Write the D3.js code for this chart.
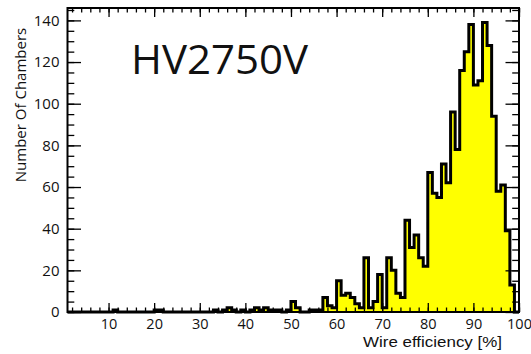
<!DOCTYPE html>
<html>
<head>
<meta charset="utf-8">
<script src="https://cdn.jsdelivr.net/npm/d3@7"></script>
<style>
  html, body { margin: 0; padding: 0; background: #fff; }
  svg { display: block; }
  text { font-family: "Open Sans", "DejaVu Sans", sans-serif; fill: #111; }
</style>
</head>
<body>
<svg id="chart" width="531" height="354"></svg>
<script>
// ---- data ----
const binStarts = d3.range(1, 100);          // bins [v, v+1), v = 1..99
const counts = [
  0,0,0,0,0,0,0,0,0,          // 1-9
  0,1,0,0,0,0,0,0,0,0,        // 10-19
  1,1,0,0,0,0,0,0,0,0,        // 20-29
  0,0,0,1,0,1,2,1,0,1,        // 30-39
  0,1,2,1,2,1,1,1,0,1,        // 40-49
  5,2,0,0,1,1,1,7,3,2,        // 50-59
  15,8,9,7,4,2,26,2,5,18,     // 60-69
  2,26,20,9,7,44,31,37,26,22, // 70-79
  67,57,55,71,62,96,78,116,125,138, // 80-89
  109,111,139,128,94,58,61,39,13,0  // 90-99
];
const xMajor = [10,20,30,40,50,60,70,80,90,100];
const xMinor = d3.range(2, 101, 2);
const yMajor = [0,20,40,60,80,100,120,140];
const yMinor = d3.range(0, 146, 5);
const title = "HV2750V";
const xTitle = "Wire efficiency [%]";
const yTitle = "Number Of Chambers";

// ---- layout ----
const L = 67.5, R = 519, T = 8, B = 312;
const svg = d3.select("#chart");
const x = d3.scaleLinear().domain([1, 100]).range([L, R]);
const y = d3.scaleLinear().domain([0, 145.95]).range([B, T]);

// histogram step points
const pts = [[1, 0]];
binStarts.forEach((v, i) => { pts.push([v, counts[i]]); pts.push([v + 1, counts[i]]); });
pts.push([100, 0]);

svg.append("path")
  .datum(pts)
  .attr("fill", "#ffff00")
  .attr("d", d3.area().x(d => x(d[0])).y0(y(0)).y1(d => y(d[1])));

svg.append("path")
  .datum(pts)
  .attr("fill", "none")
  .attr("stroke", "#000")
  .attr("stroke-width", 3)
  .attr("stroke-linejoin", "miter")
  .attr("d", d3.line().x(d => x(d[0])).y(d => y(d[1])));

// axes (ticks inward)
function styleAxis(g) {
  g.select(".domain").remove();
  g.selectAll(".tick line").attr("stroke", "#000").attr("stroke-width", 1.3);
}
const noLab = () => "";

svg.append("g").attr("transform", `translate(0,${B})`)
  .call(d3.axisBottom(x).tickValues(xMinor).tickSize(-4.5).tickFormat(noLab)).call(styleAxis);
svg.append("g").attr("transform", `translate(0,${B})`)
  .call(d3.axisBottom(x).tickValues(xMajor).tickSize(-9).tickPadding(6.7).tickFormat(d3.format("d")))
  .call(styleAxis)
  .call(g => g.selectAll("text").style("font-size", "14.5px").attr("fill", "#111"));
svg.append("g").attr("transform", `translate(0,${T})`)
  .call(d3.axisTop(x).tickValues(xMinor).tickSize(-4.5).tickFormat(noLab)).call(styleAxis);
svg.append("g").attr("transform", `translate(0,${T})`)
  .call(d3.axisTop(x).tickValues(xMajor).tickSize(-9).tickFormat(noLab)).call(styleAxis);

svg.append("g").attr("transform", `translate(${L},0)`)
  .call(d3.axisLeft(y).tickValues(yMinor).tickSize(-6.8).tickFormat(noLab)).call(styleAxis);
svg.append("g").attr("transform", `translate(${L},0)`)
  .call(d3.axisLeft(y).tickValues(yMajor).tickSize(-13.5).tickPadding(8).tickFormat(d3.format("d")))
  .call(styleAxis)
  .call(g => g.selectAll("text").style("font-size", "15px").attr("fill", "#111"));
svg.append("g").attr("transform", `translate(${R},0)`)
  .call(d3.axisRight(y).tickValues(yMinor).tickSize(-6.8).tickFormat(noLab)).call(styleAxis);
svg.append("g").attr("transform", `translate(${R},0)`)
  .call(d3.axisRight(y).tickValues(yMajor).tickSize(-13.5).tickFormat(noLab)).call(styleAxis);

// frame
svg.append("rect")
  .attr("x", L).attr("y", T).attr("width", R - L).attr("height", B - T)
  .attr("fill", "none").attr("stroke", "#000").attr("stroke-width", 2);

// titles
svg.append("text")
  .attr("x", 131).attr("y", 73.5)
  .style("font-size", "40px")
  .attr("textLength", 177).attr("lengthAdjust", "spacingAndGlyphs")
  .text(title);

svg.append("text")
  .attr("x", 363).attr("y", 347)
  .style("font-family", "'Liberation Sans', Arial, sans-serif")
  .style("font-size", "15px")
  .attr("textLength", 139).attr("lengthAdjust", "spacingAndGlyphs")
  .text(xTitle);

svg.append("text")
  .attr("transform", "translate(26,105) rotate(-90)")
  .attr("text-anchor", "middle")
  .style("font-size", "15px")
  .text(yTitle);
</script>
</body>
</html>
